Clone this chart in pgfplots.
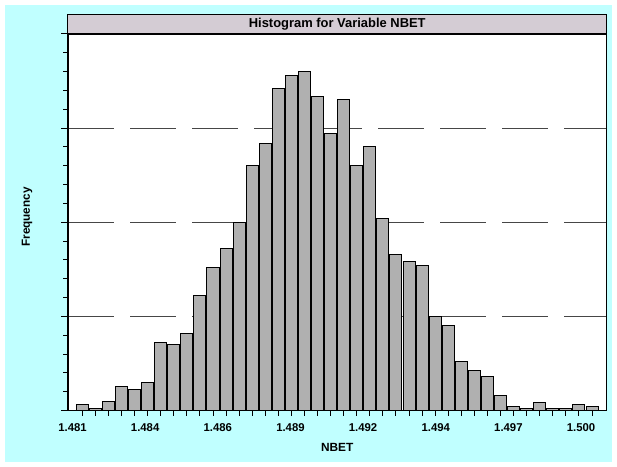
\documentclass[border=0pt]{standalone}
\usepackage{fontspec}
\setmainfont{Liberation Sans}
\usepackage{pgfplots}
\usepackage{pgfplotstable}
\pgfplotsset{compat=1.18}

\definecolor{bgcyan}{RGB}{192,255,255}
\definecolor{titlebar}{RGB}{212,204,212}
\definecolor{barfill}{RGB}{176,176,176}
\definecolor{gridgray}{RGB}{70,70,70}

% bin centre and count for each of the 40 classes
\pgfplotstableread{
x       count
1.48136 3
1.48184 1
1.48232 5
1.48280 13
1.48328 11
1.48376 15
1.48424 36
1.48472 35
1.48520 41
1.48568 61
1.48616 76
1.48664 86
1.48712 100
1.48760 130
1.48808 142
1.48856 171
1.48904 178
1.48952 180
1.49000 167
1.49048 147
1.49096 165
1.49144 130
1.49192 140
1.49240 102
1.49288 83
1.49336 79
1.49384 77
1.49432 50
1.49480 45
1.49528 26
1.49576 21
1.49624 18
1.49672 8
1.49720 2
1.49768 1
1.49816 4
1.49864 1
1.49912 1
1.49960 3
1.50008 2
}\nbet

\begin{document}
\begin{tikzpicture}
\fill[white] (0,0) rectangle (462.75pt,350.25pt);
\fill[bgcyan] (3.75pt,3.75pt) rectangle (459pt,346.5pt);
\begin{axis}[
  at={(51pt,42.375pt)}, anchor=south west,
  scale only axis, width=403.875pt, height=282.375pt,
  xmin=1.480835, xmax=1.500611, ymin=0, ymax=200,
  axis background/.style={fill=white},
  axis line style={black, line width=0.8pt},
  clip=false,
  ybar, bar width=0.000441,
  xtick={1.481,1.483668,1.486336,1.489004,1.491672,1.494340,1.497008,1.499676},
  xticklabels={1.481,1.484,1.486,1.489,1.492,1.494,1.497,1.500},
  minor xtick={1.48136,1.48184,1.48232,1.48280,1.48328,1.48376,1.48424,1.48472,1.48520,1.48568,
    1.48616,1.48664,1.48712,1.48760,1.48808,1.48856,1.48904,1.48952,1.49000,1.49048,
    1.49096,1.49144,1.49192,1.49240,1.49288,1.49336,1.49384,1.49432,1.49480,1.49528,
    1.49576,1.49624,1.49672,1.49720,1.49768,1.49816,1.49864,1.49912,1.49960,1.50008},
  major x tick style={draw=none},
  ytick={0,50,100,150,200}, yticklabels={}, minor y tick num=4,
  tick align=outside, xtick pos=bottom, ytick pos=left,
  major tick length=5.25pt, minor tick length=3.75pt,
  tick style={black, line width=0.75pt},
  ymajorgrids,
  major grid style={gridgray, line width=0.75pt, dash pattern=on 34.5pt off 12pt},
  xticklabel style={font=\fontsize{8.5}{10}\selectfont\bfseries, anchor=center, yshift=-7.4pt},
  xlabel={NBET}, ylabel={Frequency},
  xlabel style={font=\fontsize{8.9}{10}\selectfont\bfseries, at={(axis description cs:0.5,-0.0983)}, anchor=center},
  ylabel style={font=\fontsize{8.8}{10}\selectfont\bfseries, at={(axis description cs:-0.0761,0.514)}, anchor=center},
]
\addplot[fill=barfill, draw=black, line width=0.75pt] table[x=x, y=count] {\nbet};
\draw[fill=titlebar, line width=0.75pt] (rel axis cs:0,1) rectangle ([yshift=14.25pt]rel axis cs:1,1);
\node[font=\fontsize{9.7}{11}\selectfont\bfseries, anchor=center] at ([yshift=7.125pt]rel axis cs:0.5,1) {Histogram for Variable NBET};
\end{axis}
\end{tikzpicture}
\end{document}
